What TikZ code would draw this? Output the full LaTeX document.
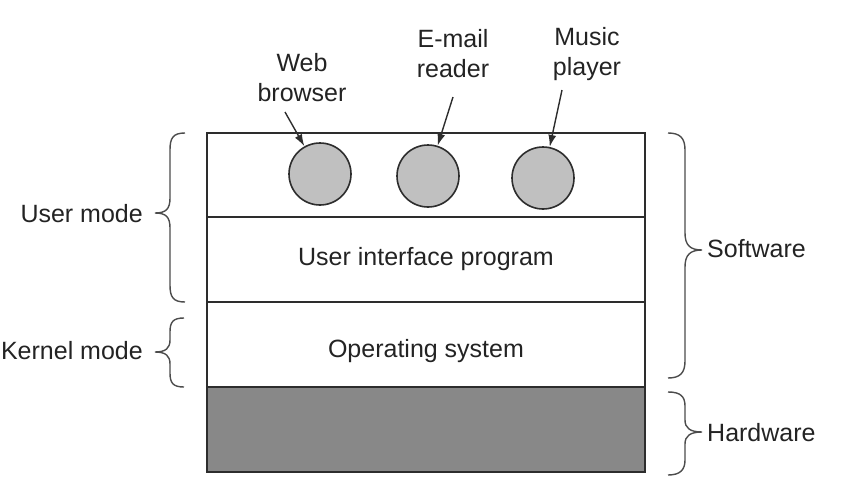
\documentclass[tikz,border=0pt]{standalone}
\usepackage{fontspec}
\setmainfont{Liberation Sans}
\usetikzlibrary{arrows.meta}
\definecolor{ink}{RGB}{45,45,45}
\definecolor{txt}{RGB}{35,35,35}
\definecolor{appfill}{RGB}{192,192,192}
\definecolor{hwfill}{RGB}{136,136,136}
\begin{document}
\begin{tikzpicture}[x=1pt,y=-1pt,
  every node/.style={font=\fontsize{25}{30}\selectfont, text=txt},
  layer/.style={draw=ink, line width=1.8pt},
  app/.style={circle, draw=ink, line width=1.6pt, fill=appfill, minimum size=62pt, inner sep=0pt},
  lbl/.style={align=center, inner sep=0pt},
  arr/.style={draw=ink, line width=1.4pt, -{Latex[length=12pt,width=8pt]}},
  brc/.style={draw=ink!85, line width=1.4pt}]
\useasboundingbox (0,0) rectangle (854,498);

% layered stack
\draw[layer] (207,133) rectangle (645,217);
\draw[layer] (207,217) rectangle (645,302);
\draw[layer] (207,302) rectangle (645,387);
\draw[layer, fill=hwfill] (207,387) rectangle (645,472);
\node (uip) at (426,259) {User interface program};
\node (os)  at (426,351) {Operating system};

% applications
\node[app] (web)   at (320,174) {};
\node[app] (mail)  at (428,176) {};
\node[app] (music) at (543,178) {};

\node[lbl] (webl)   at (302,78) {Web\\browser};
\node[lbl] (maill)  at (453,54) {E-mail\\reader};
\node[lbl] (musicl) at (587,54) {Music\\player};

\coordinate (wa) at (285,112);
\coordinate (ma) at (453,97);
\coordinate (pa) at (562,90);
\draw[arr] (wa) -- (web);
\draw[arr] (ma) -- (mail);
\draw[arr] (pa) -- (music);

% mode braces (left)
\draw[brc] (185,133) .. controls (173,133) and (170,138) .. (170,150)
  -- (170,198) .. controls (170,209) and (166,213) .. (155,213)
  .. controls (166,213) and (170,217) .. (170,228)
  -- (170,285) .. controls (170,297) and (173,302) .. (185,302);
\draw[brc] (184,318) .. controls (173,318) and (170,322) .. (170,332)
  -- (170,340) .. controls (170,348) and (166,352) .. (155,352)
  .. controls (166,352) and (170,356) .. (170,364)
  -- (170,373) .. controls (170,383) and (173,387) .. (184,387);
\node[anchor=east, inner sep=0pt] (um) at (143,214) {User mode};
\node[anchor=east, inner sep=0pt] (km) at (143,351) {Kernel mode};

% layer braces (right)
\draw[brc] (668,133) .. controls (680,133) and (685,138) .. (685,150)
  -- (685,233) .. controls (685,245) and (690,250) .. (702,250)
  .. controls (690,250) and (685,255) .. (685,267)
  -- (685,361) .. controls (685,373) and (680,378) .. (668,378);
\draw[brc] (668,392) .. controls (680,392) and (685,396) .. (685,406)
  -- (685,420) .. controls (685,428) and (690,432) .. (702,432)
  .. controls (690,432) and (685,436) .. (685,444)
  -- (685,460) .. controls (685,470) and (680,475) .. (668,475);
\node[anchor=west, inner sep=0pt] (sw) at (707,249) {Software};
\node[anchor=west, inner sep=0pt] (hw) at (707,433) {Hardware};
\end{tikzpicture}
\end{document}
